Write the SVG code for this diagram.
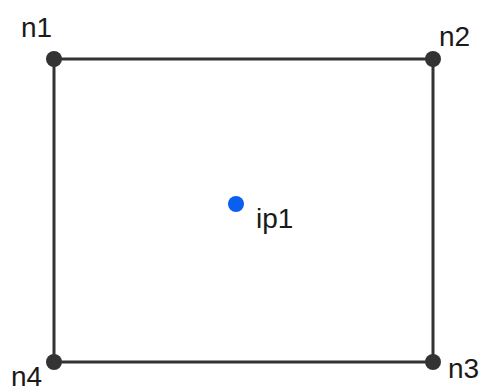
<svg xmlns="http://www.w3.org/2000/svg" width="486" height="392" viewBox="0 0 486 392">
<style>
.edge{stroke:#333;stroke-width:3;fill:none}
.node{fill:#333}
.lbl{font-family:"Liberation Sans",Arial,sans-serif;font-size:28px;fill:#1a1a1a}
</style>
<rect width="486" height="392" fill="#fff"/>
<g id="connectors">
<line class="edge" x1="54" y1="59" x2="433" y2="59"/>
<line class="edge" x1="433" y1="59" x2="433" y2="362"/>
<line class="edge" x1="433" y1="362" x2="54" y2="362"/>
<line class="edge" x1="54" y1="362" x2="54" y2="59"/>
</g>
<g id="n1"><circle class="node" cx="54" cy="59" r="8"/><text class="lbl" x="21" y="37">n1</text></g>
<g id="n2"><circle class="node" cx="433" cy="59" r="8"/><text class="lbl" x="439" y="46">n2</text></g>
<g id="n3"><circle class="node" cx="433" cy="362" r="8"/><text class="lbl" x="448" y="378">n3</text></g>
<g id="n4"><circle class="node" cx="54" cy="362" r="8"/><text class="lbl" x="11" y="386">n4</text></g>
<g id="ip1"><circle cx="236" cy="204" r="8" fill="#0a5ef0"/><text class="lbl" x="256" y="228">ip1</text></g>
</svg>
